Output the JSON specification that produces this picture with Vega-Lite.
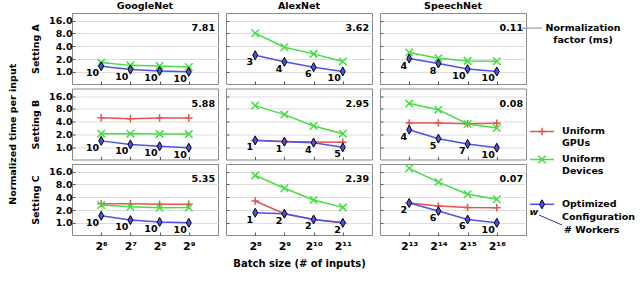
{
"$schema": "https://vega.github.io/schema/vega-lite/v6.json",
"background": "white",
"padding": {"left": 7, "top": 0, "right": 0, "bottom": 0},
"title": {"text": "Normalized time per input", "orient": "left", "anchor": "middle", "fontSize": 9.5, "fontWeight": "bold", "font": "DejaVu Sans", "color": "black", "offset": 12.5},
"config": {
  "font": "DejaVu Sans",
  "view": {"stroke": "#8a8a8a", "strokeWidth": 1},
  "axis": {"labelFont": "DejaVu Sans", "labelFontWeight": "bold", "labelFontSize": 9.5, "labelColor": "black", "titleFont": "DejaVu Sans", "titleFontWeight": "bold", "titleFontSize": 9.5, "titleColor": "black", "domain": false, "tickColor": "#555", "tickSize": -3, "labelPadding": 6, "gridColor": "#dddddd", "gridWidth": 1},
  "title": {"fontSize": 9.5, "fontWeight": "bold", "font": "DejaVu Sans", "color": "black", "offset": 3},
  "text": {"font": "DejaVu Sans"}
},
"bounds": "flush",
"columns": 3,
"spacing": {"row": 4.5, "column": 8},
"concat": [
 {"width": 146, "height": 71, "title": {"text": "GoogleNet"},
  "layer": [
   {"data": {"values": [
     {"series": "Uniform Devices", "batch": 64, "time": 1.65},
     {"series": "Uniform Devices", "batch": 128, "time": 1.42},
     {"series": "Uniform Devices", "batch": 256, "time": 1.38},
     {"series": "Uniform Devices", "batch": 512, "time": 1.3},
     {"series": "Optimized Configuration", "batch": 64, "time": 1.35, "workers": 10},
     {"series": "Optimized Configuration", "batch": 128, "time": 1.13, "workers": 10},
     {"series": "Optimized Configuration", "batch": 256, "time": 1.05, "workers": 10},
     {"series": "Optimized Configuration", "batch": 512, "time": 1.0, "workers": 10}]},
    "encoding": {
     "x": {"field": "batch", "type": "quantitative", "scale": {"type": "log", "base": 2, "domain": [32, 1024], "nice": false}, "axis": {"values": [64, 128, 256, 512], "labels": false, "title": null, "grid": false}},
     "y": {"field": "time", "type": "quantitative", "scale": {"type": "log", "base": 2, "domain": [0.5176, 24.25], "nice": false}, "axis": {"values": [1, 2, 4, 8, 16], "format": ".1f", "title": "Setting A", "titlePadding": 8.5, "labelPadding": 3}}},
    "layer": [
     {"mark": {"type": "line", "strokeWidth": 1.5}, "encoding": {"color": {"field": "series", "type": "nominal", "scale": {"domain": ["Uniform GPUs", "Uniform Devices", "Optimized Configuration"], "range": ["#e3564e", "#44dd44", "#5050e6"]}, "legend": null}}},
     {"transform": [{"filter": "datum.series !== 'Optimized Configuration'"}], "mark": {"type": "point", "filled": false, "strokeWidth": 1.5, "opacity": 1, "size": 56}, "encoding": {"color": {"field": "series", "type": "nominal", "scale": {"domain": ["Uniform GPUs", "Uniform Devices", "Optimized Configuration"], "range": ["#e3564e", "#44dd44", "#5050e6"]}, "legend": null}, "shape": {"field": "series", "type": "nominal", "scale": {"domain": ["Uniform GPUs", "Uniform Devices"], "range": ["M-1,0H1M0,-1V1", "M-1,-1L1,1M1,-1L-1,1"]}, "legend": null}}},
     {"transform": [{"filter": "datum.series === 'Optimized Configuration'"}], "mark": {"type": "point", "filled": true, "fill": "#5050e6", "stroke": "black", "strokeWidth": 1, "opacity": 1, "shape": "M0,-1L0.55,0L0,1L-0.55,0Z", "size": 81}},
     {"transform": [{"filter": "datum.series === 'Optimized Configuration'"}], "mark": {"type": "text", "align": "right", "baseline": "middle", "dx": -2, "dy": 7, "fontSize": 9.5, "fontWeight": "bold"}, "encoding": {"text": {"field": "workers"}}}
    ]},
   {"data": {"values": [{"norm": 7.81}]}, "mark": {"type": "text", "align": "right", "baseline": "middle", "dx": -3, "fontSize": 9.5, "fontWeight": "bold"}, "encoding": {"x": {"datum": 1024, "scale": {"type": "log", "base": 2, "domain": [32, 1024], "nice": false}}, "y": {"datum": 10.7, "scale": {"type": "log", "base": 2, "domain": [0.5176, 24.25], "nice": false}}, "text": {"field": "norm", "format": ".2f"}}}
  ]},
 {"width": 146, "height": 71, "title": {"text": "AlexNet"},
  "layer": [
   {"data": {"values": [
     {"series": "Uniform Devices", "batch": 256, "time": 8.1},
     {"series": "Uniform Devices", "batch": 512, "time": 3.8},
     {"series": "Uniform Devices", "batch": 1024, "time": 2.65},
     {"series": "Uniform Devices", "batch": 2048, "time": 1.75},
     {"series": "Optimized Configuration", "batch": 256, "time": 2.47, "workers": 3},
     {"series": "Optimized Configuration", "batch": 512, "time": 1.72, "workers": 4},
     {"series": "Optimized Configuration", "batch": 1024, "time": 1.29, "workers": 6},
     {"series": "Optimized Configuration", "batch": 2048, "time": 1.02, "workers": 10}]},
    "encoding": {
     "x": {"field": "batch", "type": "quantitative", "scale": {"type": "log", "base": 2, "domain": [128, 4096], "nice": false}, "axis": {"values": [256, 512, 1024, 2048], "labels": false, "title": null, "grid": false}},
     "y": {"field": "time", "type": "quantitative", "scale": {"type": "log", "base": 2, "domain": [0.5176, 24.25], "nice": false}, "axis": {"values": [1, 2, 4, 8, 16], "labels": false, "title": null}}},
    "layer": [
     {"mark": {"type": "line", "strokeWidth": 1.5}, "encoding": {"color": {"field": "series", "type": "nominal", "scale": {"domain": ["Uniform GPUs", "Uniform Devices", "Optimized Configuration"], "range": ["#e3564e", "#44dd44", "#5050e6"]}, "legend": null}}},
     {"transform": [{"filter": "datum.series !== 'Optimized Configuration'"}], "mark": {"type": "point", "filled": false, "strokeWidth": 1.5, "opacity": 1, "size": 56}, "encoding": {"color": {"field": "series", "type": "nominal", "scale": {"domain": ["Uniform GPUs", "Uniform Devices", "Optimized Configuration"], "range": ["#e3564e", "#44dd44", "#5050e6"]}, "legend": null}, "shape": {"field": "series", "type": "nominal", "scale": {"domain": ["Uniform GPUs", "Uniform Devices"], "range": ["M-1,0H1M0,-1V1", "M-1,-1L1,1M1,-1L-1,1"]}, "legend": null}}},
     {"transform": [{"filter": "datum.series === 'Optimized Configuration'"}], "mark": {"type": "point", "filled": true, "fill": "#5050e6", "stroke": "black", "strokeWidth": 1, "opacity": 1, "shape": "M0,-1L0.55,0L0,1L-0.55,0Z", "size": 81}},
     {"transform": [{"filter": "datum.series === 'Optimized Configuration'"}], "mark": {"type": "text", "align": "right", "baseline": "middle", "dx": -2, "dy": 7, "fontSize": 9.5, "fontWeight": "bold"}, "encoding": {"text": {"field": "workers"}}}
    ]},
   {"data": {"values": [{"norm": 3.62}]}, "mark": {"type": "text", "align": "right", "baseline": "middle", "dx": -3, "fontSize": 9.5, "fontWeight": "bold"}, "encoding": {"x": {"datum": 4096, "scale": {"type": "log", "base": 2, "domain": [128, 4096], "nice": false}}, "y": {"datum": 10.7, "scale": {"type": "log", "base": 2, "domain": [0.5176, 24.25], "nice": false}}, "text": {"field": "norm", "format": ".2f"}}}
  ]},
 {"width": 146, "height": 71, "title": {"text": "SpeechNet"},
  "layer": [
   {"data": {"values": [
     {"series": "Uniform Devices", "batch": 8192, "time": 2.85},
     {"series": "Uniform Devices", "batch": 16384, "time": 2.1},
     {"series": "Uniform Devices", "batch": 32768, "time": 1.81},
     {"series": "Uniform Devices", "batch": 65536, "time": 1.78},
     {"series": "Optimized Configuration", "batch": 8192, "time": 2.05, "workers": 4},
     {"series": "Optimized Configuration", "batch": 16384, "time": 1.57, "workers": 8},
     {"series": "Optimized Configuration", "batch": 32768, "time": 1.16, "workers": 10},
     {"series": "Optimized Configuration", "batch": 65536, "time": 1.02, "workers": 10}]},
    "encoding": {
     "x": {"field": "batch", "type": "quantitative", "scale": {"type": "log", "base": 2, "domain": [4096, 131072], "nice": false}, "axis": {"values": [8192, 16384, 32768, 65536], "labels": false, "title": null, "grid": false}},
     "y": {"field": "time", "type": "quantitative", "scale": {"type": "log", "base": 2, "domain": [0.5176, 24.25], "nice": false}, "axis": {"values": [1, 2, 4, 8, 16], "labels": false, "title": null}}},
    "layer": [
     {"mark": {"type": "line", "strokeWidth": 1.5}, "encoding": {"color": {"field": "series", "type": "nominal", "scale": {"domain": ["Uniform GPUs", "Uniform Devices", "Optimized Configuration"], "range": ["#e3564e", "#44dd44", "#5050e6"]}, "legend": null}}},
     {"transform": [{"filter": "datum.series !== 'Optimized Configuration'"}], "mark": {"type": "point", "filled": false, "strokeWidth": 1.5, "opacity": 1, "size": 56}, "encoding": {"color": {"field": "series", "type": "nominal", "scale": {"domain": ["Uniform GPUs", "Uniform Devices", "Optimized Configuration"], "range": ["#e3564e", "#44dd44", "#5050e6"]}, "legend": null}, "shape": {"field": "series", "type": "nominal", "scale": {"domain": ["Uniform GPUs", "Uniform Devices"], "range": ["M-1,0H1M0,-1V1", "M-1,-1L1,1M1,-1L-1,1"]}, "legend": null}}},
     {"transform": [{"filter": "datum.series === 'Optimized Configuration'"}], "mark": {"type": "point", "filled": true, "fill": "#5050e6", "stroke": "black", "strokeWidth": 1, "opacity": 1, "shape": "M0,-1L0.55,0L0,1L-0.55,0Z", "size": 81}},
     {"transform": [{"filter": "datum.series === 'Optimized Configuration'"}], "mark": {"type": "text", "align": "right", "baseline": "middle", "dx": -2, "dy": 7, "fontSize": 9.5, "fontWeight": "bold"}, "encoding": {"text": {"field": "workers"}}}
    ]},
   {"data": {"values": [{"norm": 0.11}]}, "mark": {"type": "text", "align": "right", "baseline": "middle", "dx": -3, "fontSize": 9.5, "fontWeight": "bold"}, "encoding": {"x": {"datum": 131072, "scale": {"type": "log", "base": 2, "domain": [4096, 131072], "nice": false}}, "y": {"datum": 10.7, "scale": {"type": "log", "base": 2, "domain": [0.5176, 24.25], "nice": false}}, "text": {"field": "norm", "format": ".2f"}}},
   {"data": {"values": [{"label": "Normalization factor (ms)"}]}, "mark": {"type": "rule", "color": "#8a8a8a", "strokeWidth": 1}, "encoding": {"x": {"datum": 119200, "scale": {"type": "log", "base": 2, "domain": [4096, 131072], "nice": false}}, "x2": {"datum": 191600}, "y": {"datum": 10.7, "scale": {"type": "log", "base": 2, "domain": [0.5176, 24.25], "nice": false}}}},
   {"data": {"values": [{"label": "Normalization factor (ms)"}]}, "mark": {"type": "text", "text": ["Normalization", "factor (ms)"], "align": "center", "baseline": "middle", "lineHeight": 12.5, "fontSize": 9.5, "fontWeight": "bold"}, "encoding": {"x": {"datum": 507200, "scale": {"type": "log", "base": 2, "domain": [4096, 131072], "nice": false}}, "y": {"datum": 11.05, "scale": {"type": "log", "base": 2, "domain": [0.5176, 24.25], "nice": false}}}}
  ]},
 {"width": 146, "height": 71,
  "layer": [
   {"data": {"values": [
     {"series": "Uniform GPUs", "batch": 64, "time": 5.0},
     {"series": "Uniform GPUs", "batch": 128, "time": 4.7},
     {"series": "Uniform GPUs", "batch": 256, "time": 4.9},
     {"series": "Uniform GPUs", "batch": 512, "time": 4.9},
     {"series": "Uniform Devices", "batch": 64, "time": 2.1},
     {"series": "Uniform Devices", "batch": 128, "time": 2.1},
     {"series": "Uniform Devices", "batch": 256, "time": 2.05},
     {"series": "Uniform Devices", "batch": 512, "time": 2.05},
     {"series": "Optimized Configuration", "batch": 64, "time": 1.42, "workers": 10},
     {"series": "Optimized Configuration", "batch": 128, "time": 1.17, "workers": 10},
     {"series": "Optimized Configuration", "batch": 256, "time": 1.06, "workers": 10},
     {"series": "Optimized Configuration", "batch": 512, "time": 0.98, "workers": 10}]},
    "encoding": {
     "x": {"field": "batch", "type": "quantitative", "scale": {"type": "log", "base": 2, "domain": [32, 1024], "nice": false}, "axis": {"values": [64, 128, 256, 512], "labels": false, "title": null, "grid": false}},
     "y": {"field": "time", "type": "quantitative", "scale": {"type": "log", "base": 2, "domain": [0.5176, 24.25], "nice": false}, "axis": {"values": [1, 2, 4, 8, 16], "format": ".1f", "title": "Setting B", "titlePadding": 8.5, "labelPadding": 3}}},
    "layer": [
     {"mark": {"type": "line", "strokeWidth": 1.5}, "encoding": {"color": {"field": "series", "type": "nominal", "scale": {"domain": ["Uniform GPUs", "Uniform Devices", "Optimized Configuration"], "range": ["#e3564e", "#44dd44", "#5050e6"]}, "legend": null}}},
     {"transform": [{"filter": "datum.series !== 'Optimized Configuration'"}], "mark": {"type": "point", "filled": false, "strokeWidth": 1.5, "opacity": 1, "size": 56}, "encoding": {"color": {"field": "series", "type": "nominal", "scale": {"domain": ["Uniform GPUs", "Uniform Devices", "Optimized Configuration"], "range": ["#e3564e", "#44dd44", "#5050e6"]}, "legend": null}, "shape": {"field": "series", "type": "nominal", "scale": {"domain": ["Uniform GPUs", "Uniform Devices"], "range": ["M-1,0H1M0,-1V1", "M-1,-1L1,1M1,-1L-1,1"]}, "legend": null}}},
     {"transform": [{"filter": "datum.series === 'Optimized Configuration'"}], "mark": {"type": "point", "filled": true, "fill": "#5050e6", "stroke": "black", "strokeWidth": 1, "opacity": 1, "shape": "M0,-1L0.55,0L0,1L-0.55,0Z", "size": 81}},
     {"transform": [{"filter": "datum.series === 'Optimized Configuration'"}], "mark": {"type": "text", "align": "right", "baseline": "middle", "dx": -2, "dy": 7, "fontSize": 9.5, "fontWeight": "bold"}, "encoding": {"text": {"field": "workers"}}}
    ]},
   {"data": {"values": [{"norm": 5.88}]}, "mark": {"type": "text", "align": "right", "baseline": "middle", "dx": -3, "fontSize": 9.5, "fontWeight": "bold"}, "encoding": {"x": {"datum": 1024, "scale": {"type": "log", "base": 2, "domain": [32, 1024], "nice": false}}, "y": {"datum": 10.7, "scale": {"type": "log", "base": 2, "domain": [0.5176, 24.25], "nice": false}}, "text": {"field": "norm", "format": ".2f"}}}
  ]},
 {"width": 146, "height": 71,
  "layer": [
   {"data": {"values": [
     {"series": "Uniform GPUs", "batch": 256, "time": 1.45},
     {"series": "Uniform GPUs", "batch": 512, "time": 1.38},
     {"series": "Uniform GPUs", "batch": 1024, "time": 1.33},
     {"series": "Uniform GPUs", "batch": 2048, "time": 1.31},
     {"series": "Uniform Devices", "batch": 256, "time": 9.6},
     {"series": "Uniform Devices", "batch": 512, "time": 5.9},
     {"series": "Uniform Devices", "batch": 1024, "time": 3.18},
     {"series": "Uniform Devices", "batch": 2048, "time": 2.1},
     {"series": "Optimized Configuration", "batch": 256, "time": 1.46, "workers": 1},
     {"series": "Optimized Configuration", "batch": 512, "time": 1.36, "workers": 1},
     {"series": "Optimized Configuration", "batch": 1024, "time": 1.29, "workers": 4},
     {"series": "Optimized Configuration", "batch": 2048, "time": 1.0, "workers": 5}]},
    "encoding": {
     "x": {"field": "batch", "type": "quantitative", "scale": {"type": "log", "base": 2, "domain": [128, 4096], "nice": false}, "axis": {"values": [256, 512, 1024, 2048], "labels": false, "title": null, "grid": false}},
     "y": {"field": "time", "type": "quantitative", "scale": {"type": "log", "base": 2, "domain": [0.5176, 24.25], "nice": false}, "axis": {"values": [1, 2, 4, 8, 16], "labels": false, "title": null}}},
    "layer": [
     {"mark": {"type": "line", "strokeWidth": 1.5}, "encoding": {"color": {"field": "series", "type": "nominal", "scale": {"domain": ["Uniform GPUs", "Uniform Devices", "Optimized Configuration"], "range": ["#e3564e", "#44dd44", "#5050e6"]}, "legend": null}}},
     {"transform": [{"filter": "datum.series !== 'Optimized Configuration'"}], "mark": {"type": "point", "filled": false, "strokeWidth": 1.5, "opacity": 1, "size": 56}, "encoding": {"color": {"field": "series", "type": "nominal", "scale": {"domain": ["Uniform GPUs", "Uniform Devices", "Optimized Configuration"], "range": ["#e3564e", "#44dd44", "#5050e6"]}, "legend": null}, "shape": {"field": "series", "type": "nominal", "scale": {"domain": ["Uniform GPUs", "Uniform Devices"], "range": ["M-1,0H1M0,-1V1", "M-1,-1L1,1M1,-1L-1,1"]}, "legend": null}}},
     {"transform": [{"filter": "datum.series === 'Optimized Configuration'"}], "mark": {"type": "point", "filled": true, "fill": "#5050e6", "stroke": "black", "strokeWidth": 1, "opacity": 1, "shape": "M0,-1L0.55,0L0,1L-0.55,0Z", "size": 81}},
     {"transform": [{"filter": "datum.series === 'Optimized Configuration'"}], "mark": {"type": "text", "align": "right", "baseline": "middle", "dx": -2, "dy": 7, "fontSize": 9.5, "fontWeight": "bold"}, "encoding": {"text": {"field": "workers"}}}
    ]},
   {"data": {"values": [{"norm": 2.95}]}, "mark": {"type": "text", "align": "right", "baseline": "middle", "dx": -3, "fontSize": 9.5, "fontWeight": "bold"}, "encoding": {"x": {"datum": 4096, "scale": {"type": "log", "base": 2, "domain": [128, 4096], "nice": false}}, "y": {"datum": 10.7, "scale": {"type": "log", "base": 2, "domain": [0.5176, 24.25], "nice": false}}, "text": {"field": "norm", "format": ".2f"}}}
  ]},
 {"width": 146, "height": 71,
  "layer": [
   {"data": {"values": [
     {"series": "Uniform GPUs", "batch": 8192, "time": 3.74},
     {"series": "Uniform GPUs", "batch": 16384, "time": 3.74},
     {"series": "Uniform GPUs", "batch": 32768, "time": 3.6},
     {"series": "Uniform GPUs", "batch": 65536, "time": 3.7},
     {"series": "Uniform Devices", "batch": 8192, "time": 10.7},
     {"series": "Uniform Devices", "batch": 16384, "time": 7.7},
     {"series": "Uniform Devices", "batch": 32768, "time": 3.55},
     {"series": "Uniform Devices", "batch": 65536, "time": 2.85},
     {"series": "Optimized Configuration", "batch": 8192, "time": 2.6, "workers": 4},
     {"series": "Optimized Configuration", "batch": 16384, "time": 1.6, "workers": 5},
     {"series": "Optimized Configuration", "batch": 32768, "time": 1.2, "workers": 7},
     {"series": "Optimized Configuration", "batch": 65536, "time": 0.98, "workers": 10}]},
    "encoding": {
     "x": {"field": "batch", "type": "quantitative", "scale": {"type": "log", "base": 2, "domain": [4096, 131072], "nice": false}, "axis": {"values": [8192, 16384, 32768, 65536], "labels": false, "title": null, "grid": false}},
     "y": {"field": "time", "type": "quantitative", "scale": {"type": "log", "base": 2, "domain": [0.5176, 24.25], "nice": false}, "axis": {"values": [1, 2, 4, 8, 16], "labels": false, "title": null}}},
    "layer": [
     {"mark": {"type": "line", "strokeWidth": 1.5}, "encoding": {"color": {"field": "series", "type": "nominal", "scale": {"domain": ["Uniform GPUs", "Uniform Devices", "Optimized Configuration"], "range": ["#e3564e", "#44dd44", "#5050e6"]}, "legend": null}}},
     {"transform": [{"filter": "datum.series !== 'Optimized Configuration'"}], "mark": {"type": "point", "filled": false, "strokeWidth": 1.5, "opacity": 1, "size": 56}, "encoding": {"color": {"field": "series", "type": "nominal", "scale": {"domain": ["Uniform GPUs", "Uniform Devices", "Optimized Configuration"], "range": ["#e3564e", "#44dd44", "#5050e6"]}, "legend": null}, "shape": {"field": "series", "type": "nominal", "scale": {"domain": ["Uniform GPUs", "Uniform Devices"], "range": ["M-1,0H1M0,-1V1", "M-1,-1L1,1M1,-1L-1,1"]}, "legend": null}}},
     {"transform": [{"filter": "datum.series === 'Optimized Configuration'"}], "mark": {"type": "point", "filled": true, "fill": "#5050e6", "stroke": "black", "strokeWidth": 1, "opacity": 1, "shape": "M0,-1L0.55,0L0,1L-0.55,0Z", "size": 81}},
     {"transform": [{"filter": "datum.series === 'Optimized Configuration'"}], "mark": {"type": "text", "align": "right", "baseline": "middle", "dx": -2, "dy": 7, "fontSize": 9.5, "fontWeight": "bold"}, "encoding": {"text": {"field": "workers"}}}
    ]},
   {"data": {"values": [{"norm": 0.08}]}, "mark": {"type": "text", "align": "right", "baseline": "middle", "dx": -3, "fontSize": 9.5, "fontWeight": "bold"}, "encoding": {"x": {"datum": 131072, "scale": {"type": "log", "base": 2, "domain": [4096, 131072], "nice": false}}, "y": {"datum": 10.7, "scale": {"type": "log", "base": 2, "domain": [0.5176, 24.25], "nice": false}}, "text": {"field": "norm", "format": ".2f"}}},
   {"data": {"values": [{"label": "Uniform GPUs"}]}, "mark": {"type": "rule", "color": "#e3564e", "strokeWidth": 1.5}, "encoding": {"x": {"datum": 144140, "scale": {"type": "log", "base": 2, "domain": [4096, 131072], "nice": false}}, "x2": {"datum": 254800}, "y": {"datum": 2.359, "scale": {"type": "log", "base": 2, "domain": [0.5176, 24.25], "nice": false}}}},
   {"data": {"values": [{"label": "Uniform GPUs"}]}, "mark": {"type": "point", "shape": "M-1,0H1M0,-1V1", "filled": false, "color": "#e3564e", "strokeWidth": 1.5, "size": 56, "opacity": 1}, "encoding": {"x": {"datum": 191600, "scale": {"type": "log", "base": 2, "domain": [4096, 131072], "nice": false}}, "y": {"datum": 2.359, "scale": {"type": "log", "base": 2, "domain": [0.5176, 24.25], "nice": false}}}},
   {"data": {"values": [{"label": "Uniform GPUs"}]}, "mark": {"type": "text", "text": ["Uniform", "GPUs"], "align": "left", "baseline": "middle", "lineHeight": 12, "fontSize": 9.5, "fontWeight": "bold"}, "encoding": {"x": {"datum": 308000, "scale": {"type": "log", "base": 2, "domain": [4096, 131072], "nice": false}}, "y": {"datum": 2.49, "scale": {"type": "log", "base": 2, "domain": [0.5176, 24.25], "nice": false}}}},
   {"data": {"values": [{"label": "Uniform Devices"}]}, "mark": {"type": "rule", "color": "#44dd44", "strokeWidth": 1.5}, "encoding": {"x": {"datum": 144140, "scale": {"type": "log", "base": 2, "domain": [4096, 131072], "nice": false}}, "x2": {"datum": 254800}, "y": {"datum": 0.517, "scale": {"type": "log", "base": 2, "domain": [0.5176, 24.25], "nice": false}}}},
   {"data": {"values": [{"label": "Uniform Devices"}]}, "mark": {"type": "point", "shape": "M-1,-1L1,1M1,-1L-1,1", "filled": false, "color": "#44dd44", "strokeWidth": 1.5, "size": 56, "opacity": 1}, "encoding": {"x": {"datum": 191600, "scale": {"type": "log", "base": 2, "domain": [4096, 131072], "nice": false}}, "y": {"datum": 0.517, "scale": {"type": "log", "base": 2, "domain": [0.5176, 24.25], "nice": false}}}},
   {"data": {"values": [{"label": "Uniform Devices"}]}, "mark": {"type": "text", "text": ["Uniform", "Devices"], "align": "left", "baseline": "middle", "lineHeight": 12, "fontSize": 9.5, "fontWeight": "bold"}, "encoding": {"x": {"datum": 308000, "scale": {"type": "log", "base": 2, "domain": [4096, 131072], "nice": false}}, "y": {"datum": 0.537, "scale": {"type": "log", "base": 2, "domain": [0.5176, 24.25], "nice": false}}}}
  ]},
 {"width": 146, "height": 71,
  "layer": [
   {"data": {"values": [
     {"series": "Uniform GPUs", "batch": 64, "time": 2.83},
     {"series": "Uniform GPUs", "batch": 128, "time": 2.8},
     {"series": "Uniform GPUs", "batch": 256, "time": 2.74},
     {"series": "Uniform GPUs", "batch": 512, "time": 2.74},
     {"series": "Uniform Devices", "batch": 64, "time": 2.63},
     {"series": "Uniform Devices", "batch": 128, "time": 2.4},
     {"series": "Uniform Devices", "batch": 256, "time": 2.27},
     {"series": "Uniform Devices", "batch": 512, "time": 2.3},
     {"series": "Optimized Configuration", "batch": 64, "time": 1.47, "workers": 10},
     {"series": "Optimized Configuration", "batch": 128, "time": 1.16, "workers": 10},
     {"series": "Optimized Configuration", "batch": 256, "time": 1.05, "workers": 10},
     {"series": "Optimized Configuration", "batch": 512, "time": 1.0, "workers": 10}]},
    "encoding": {
     "x": {"field": "batch", "type": "quantitative", "scale": {"type": "log", "base": 2, "domain": [32, 1024], "nice": false}, "axis": {"values": [64, 128, 256, 512], "labelExpr": "datum.value == 64 ? '2⁶' : datum.value == 128 ? '2⁷' : datum.value == 256 ? '2⁸' : '2⁹'", "labelFontSize": 11, "labelPadding": 8, "title": null, "grid": false}},
     "y": {"field": "time", "type": "quantitative", "scale": {"type": "log", "base": 2, "domain": [0.5176, 24.25], "nice": false}, "axis": {"values": [1, 2, 4, 8, 16], "format": ".1f", "title": "Setting C", "titlePadding": 8.5, "labelPadding": 3}}},
    "layer": [
     {"mark": {"type": "line", "strokeWidth": 1.5}, "encoding": {"color": {"field": "series", "type": "nominal", "scale": {"domain": ["Uniform GPUs", "Uniform Devices", "Optimized Configuration"], "range": ["#e3564e", "#44dd44", "#5050e6"]}, "legend": null}}},
     {"transform": [{"filter": "datum.series !== 'Optimized Configuration'"}], "mark": {"type": "point", "filled": false, "strokeWidth": 1.5, "opacity": 1, "size": 56}, "encoding": {"color": {"field": "series", "type": "nominal", "scale": {"domain": ["Uniform GPUs", "Uniform Devices", "Optimized Configuration"], "range": ["#e3564e", "#44dd44", "#5050e6"]}, "legend": null}, "shape": {"field": "series", "type": "nominal", "scale": {"domain": ["Uniform GPUs", "Uniform Devices"], "range": ["M-1,0H1M0,-1V1", "M-1,-1L1,1M1,-1L-1,1"]}, "legend": null}}},
     {"transform": [{"filter": "datum.series === 'Optimized Configuration'"}], "mark": {"type": "point", "filled": true, "fill": "#5050e6", "stroke": "black", "strokeWidth": 1, "opacity": 1, "shape": "M0,-1L0.55,0L0,1L-0.55,0Z", "size": 81}},
     {"transform": [{"filter": "datum.series === 'Optimized Configuration'"}], "mark": {"type": "text", "align": "right", "baseline": "middle", "dx": -2, "dy": 7, "fontSize": 9.5, "fontWeight": "bold"}, "encoding": {"text": {"field": "workers"}}}
    ]},
   {"data": {"values": [{"norm": 5.35}]}, "mark": {"type": "text", "align": "right", "baseline": "middle", "dx": -3, "fontSize": 9.5, "fontWeight": "bold"}, "encoding": {"x": {"datum": 1024, "scale": {"type": "log", "base": 2, "domain": [32, 1024], "nice": false}}, "y": {"datum": 10.7, "scale": {"type": "log", "base": 2, "domain": [0.5176, 24.25], "nice": false}}, "text": {"field": "norm", "format": ".2f"}}}
  ]},
 {"width": 146, "height": 71,
  "layer": [
   {"data": {"values": [
     {"series": "Uniform GPUs", "batch": 256, "time": 3.27},
     {"series": "Uniform GPUs", "batch": 512, "time": 1.64},
     {"series": "Uniform GPUs", "batch": 1024, "time": 1.2},
     {"series": "Uniform GPUs", "batch": 2048, "time": 1.0},
     {"series": "Uniform Devices", "batch": 256, "time": 13.1},
     {"series": "Uniform Devices", "batch": 512, "time": 6.5},
     {"series": "Uniform Devices", "batch": 1024, "time": 3.46},
     {"series": "Uniform Devices", "batch": 2048, "time": 2.31},
     {"series": "Optimized Configuration", "batch": 256, "time": 1.73, "workers": 1},
     {"series": "Optimized Configuration", "batch": 512, "time": 1.64, "workers": 2},
     {"series": "Optimized Configuration", "batch": 1024, "time": 1.2, "workers": 2},
     {"series": "Optimized Configuration", "batch": 2048, "time": 1.0, "workers": 2}]},
    "encoding": {
     "x": {"field": "batch", "type": "quantitative", "scale": {"type": "log", "base": 2, "domain": [128, 4096], "nice": false}, "axis": {"values": [256, 512, 1024, 2048], "labelExpr": "datum.value == 256 ? '2⁸' : datum.value == 512 ? '2⁹' : datum.value == 1024 ? '2¹⁰' : '2¹¹'", "labelFontSize": 11, "labelPadding": 8, "title": "Batch size (# of inputs)", "titleFontSize": 10, "titlePadding": 7, "grid": false}},
     "y": {"field": "time", "type": "quantitative", "scale": {"type": "log", "base": 2, "domain": [0.5176, 24.25], "nice": false}, "axis": {"values": [1, 2, 4, 8, 16], "labels": false, "title": null}}},
    "layer": [
     {"mark": {"type": "line", "strokeWidth": 1.5}, "encoding": {"color": {"field": "series", "type": "nominal", "scale": {"domain": ["Uniform GPUs", "Uniform Devices", "Optimized Configuration"], "range": ["#e3564e", "#44dd44", "#5050e6"]}, "legend": null}}},
     {"transform": [{"filter": "datum.series !== 'Optimized Configuration'"}], "mark": {"type": "point", "filled": false, "strokeWidth": 1.5, "opacity": 1, "size": 56}, "encoding": {"color": {"field": "series", "type": "nominal", "scale": {"domain": ["Uniform GPUs", "Uniform Devices", "Optimized Configuration"], "range": ["#e3564e", "#44dd44", "#5050e6"]}, "legend": null}, "shape": {"field": "series", "type": "nominal", "scale": {"domain": ["Uniform GPUs", "Uniform Devices"], "range": ["M-1,0H1M0,-1V1", "M-1,-1L1,1M1,-1L-1,1"]}, "legend": null}}},
     {"transform": [{"filter": "datum.series === 'Optimized Configuration'"}], "mark": {"type": "point", "filled": true, "fill": "#5050e6", "stroke": "black", "strokeWidth": 1, "opacity": 1, "shape": "M0,-1L0.55,0L0,1L-0.55,0Z", "size": 81}},
     {"transform": [{"filter": "datum.series === 'Optimized Configuration'"}], "mark": {"type": "text", "align": "right", "baseline": "middle", "dx": -2, "dy": 7, "fontSize": 9.5, "fontWeight": "bold"}, "encoding": {"text": {"field": "workers"}}}
    ]},
   {"data": {"values": [{"norm": 2.39}]}, "mark": {"type": "text", "align": "right", "baseline": "middle", "dx": -3, "fontSize": 9.5, "fontWeight": "bold"}, "encoding": {"x": {"datum": 4096, "scale": {"type": "log", "base": 2, "domain": [128, 4096], "nice": false}}, "y": {"datum": 10.7, "scale": {"type": "log", "base": 2, "domain": [0.5176, 24.25], "nice": false}}, "text": {"field": "norm", "format": ".2f"}}}
  ]},
 {"width": 146, "height": 71,
  "layer": [
   {"data": {"values": [
     {"series": "Uniform GPUs", "batch": 8192, "time": 2.93},
     {"series": "Uniform GPUs", "batch": 16384, "time": 2.49},
     {"series": "Uniform GPUs", "batch": 32768, "time": 2.31},
     {"series": "Uniform GPUs", "batch": 65536, "time": 2.27},
     {"series": "Uniform Devices", "batch": 8192, "time": 19.2},
     {"series": "Uniform Devices", "batch": 16384, "time": 9.1},
     {"series": "Uniform Devices", "batch": 32768, "time": 4.7},
     {"series": "Uniform Devices", "batch": 65536, "time": 3.6},
     {"series": "Optimized Configuration", "batch": 8192, "time": 2.93, "workers": 2},
     {"series": "Optimized Configuration", "batch": 16384, "time": 1.89, "workers": 6},
     {"series": "Optimized Configuration", "batch": 32768, "time": 1.2, "workers": 6},
     {"series": "Optimized Configuration", "batch": 65536, "time": 1.0, "workers": 10}]},
    "encoding": {
     "x": {"field": "batch", "type": "quantitative", "scale": {"type": "log", "base": 2, "domain": [4096, 131072], "nice": false}, "axis": {"values": [8192, 16384, 32768, 65536], "labelExpr": "datum.value == 8192 ? '2¹³' : datum.value == 16384 ? '2¹⁴' : datum.value == 32768 ? '2¹⁵' : '2¹⁶'", "labelFontSize": 11, "labelPadding": 8, "title": null, "grid": false}},
     "y": {"field": "time", "type": "quantitative", "scale": {"type": "log", "base": 2, "domain": [0.5176, 24.25], "nice": false}, "axis": {"values": [1, 2, 4, 8, 16], "labels": false, "title": null}}},
    "layer": [
     {"mark": {"type": "line", "strokeWidth": 1.5}, "encoding": {"color": {"field": "series", "type": "nominal", "scale": {"domain": ["Uniform GPUs", "Uniform Devices", "Optimized Configuration"], "range": ["#e3564e", "#44dd44", "#5050e6"]}, "legend": null}}},
     {"transform": [{"filter": "datum.series !== 'Optimized Configuration'"}], "mark": {"type": "point", "filled": false, "strokeWidth": 1.5, "opacity": 1, "size": 56}, "encoding": {"color": {"field": "series", "type": "nominal", "scale": {"domain": ["Uniform GPUs", "Uniform Devices", "Optimized Configuration"], "range": ["#e3564e", "#44dd44", "#5050e6"]}, "legend": null}, "shape": {"field": "series", "type": "nominal", "scale": {"domain": ["Uniform GPUs", "Uniform Devices"], "range": ["M-1,0H1M0,-1V1", "M-1,-1L1,1M1,-1L-1,1"]}, "legend": null}}},
     {"transform": [{"filter": "datum.series === 'Optimized Configuration'"}], "mark": {"type": "point", "filled": true, "fill": "#5050e6", "stroke": "black", "strokeWidth": 1, "opacity": 1, "shape": "M0,-1L0.55,0L0,1L-0.55,0Z", "size": 81}},
     {"transform": [{"filter": "datum.series === 'Optimized Configuration'"}], "mark": {"type": "text", "align": "right", "baseline": "middle", "dx": -2, "dy": 7, "fontSize": 9.5, "fontWeight": "bold"}, "encoding": {"text": {"field": "workers"}}}
    ]},
   {"data": {"values": [{"norm": 0.07}]}, "mark": {"type": "text", "align": "right", "baseline": "middle", "dx": -3, "fontSize": 9.5, "fontWeight": "bold"}, "encoding": {"x": {"datum": 131072, "scale": {"type": "log", "base": 2, "domain": [4096, 131072], "nice": false}}, "y": {"datum": 10.7, "scale": {"type": "log", "base": 2, "domain": [0.5176, 24.25], "nice": false}}, "text": {"field": "norm", "format": ".2f"}}},
   {"data": {"values": [{"label": "Optimized Configuration"}]}, "mark": {"type": "rule", "color": "#5050e6", "strokeWidth": 1.5}, "encoding": {"x": {"datum": 144140, "scale": {"type": "log", "base": 2, "domain": [4096, 131072], "nice": false}}, "x2": {"datum": 254800}, "y": {"datum": 2.73, "scale": {"type": "log", "base": 2, "domain": [0.5176, 24.25], "nice": false}}}},
   {"data": {"values": [{"label": "Optimized Configuration"}]}, "mark": {"type": "point", "filled": true, "fill": "#5050e6", "stroke": "black", "strokeWidth": 1, "opacity": 1, "shape": "M0,-1L0.55,0L0,1L-0.55,0Z", "size": 81}, "encoding": {"x": {"datum": 191600, "scale": {"type": "log", "base": 2, "domain": [4096, 131072], "nice": false}}, "y": {"datum": 2.73, "scale": {"type": "log", "base": 2, "domain": [0.5176, 24.25], "nice": false}}}},
   {"data": {"values": [{"label": "Optimized Configuration"}]}, "mark": {"type": "text", "text": ["Optimized", "Configuration"], "align": "left", "baseline": "middle", "lineHeight": 12.5, "fontSize": 9.5, "fontWeight": "bold"}, "encoding": {"x": {"datum": 308000, "scale": {"type": "log", "base": 2, "domain": [4096, 131072], "nice": false}}, "y": {"datum": 2.72, "scale": {"type": "log", "base": 2, "domain": [0.5176, 24.25], "nice": false}}}},
   {"data": {"values": [{"label": "w"}]}, "mark": {"type": "text", "text": "w", "align": "center", "baseline": "middle", "fontSize": 9.5, "fontWeight": "bold", "fontStyle": "italic"}, "encoding": {"x": {"datum": 158500, "scale": {"type": "log", "base": 2, "domain": [4096, 131072], "nice": false}}, "y": {"datum": 1.77, "scale": {"type": "log", "base": 2, "domain": [0.5176, 24.25], "nice": false}}}},
   {"data": {"values": [{"label": "# Workers"}]}, "mark": {"type": "rule", "color": "#2f2f9f", "strokeWidth": 1}, "encoding": {"x": {"datum": 178400, "scale": {"type": "log", "base": 2, "domain": [4096, 131072], "nice": false}}, "y": {"datum": 1.53, "scale": {"type": "log", "base": 2, "domain": [0.5176, 24.25], "nice": false}}, "x2": {"datum": 308000}, "y2": {"datum": 0.889}}},
   {"data": {"values": [{"label": "# Workers"}]}, "mark": {"type": "text", "text": "# Workers", "align": "left", "baseline": "middle", "fontSize": 9.5, "fontWeight": "bold"}, "encoding": {"x": {"datum": 322900, "scale": {"type": "log", "base": 2, "domain": [4096, 131072], "nice": false}}, "y": {"datum": 0.678, "scale": {"type": "log", "base": 2, "domain": [0.5176, 24.25], "nice": false}}}}
  ]}
]
}
